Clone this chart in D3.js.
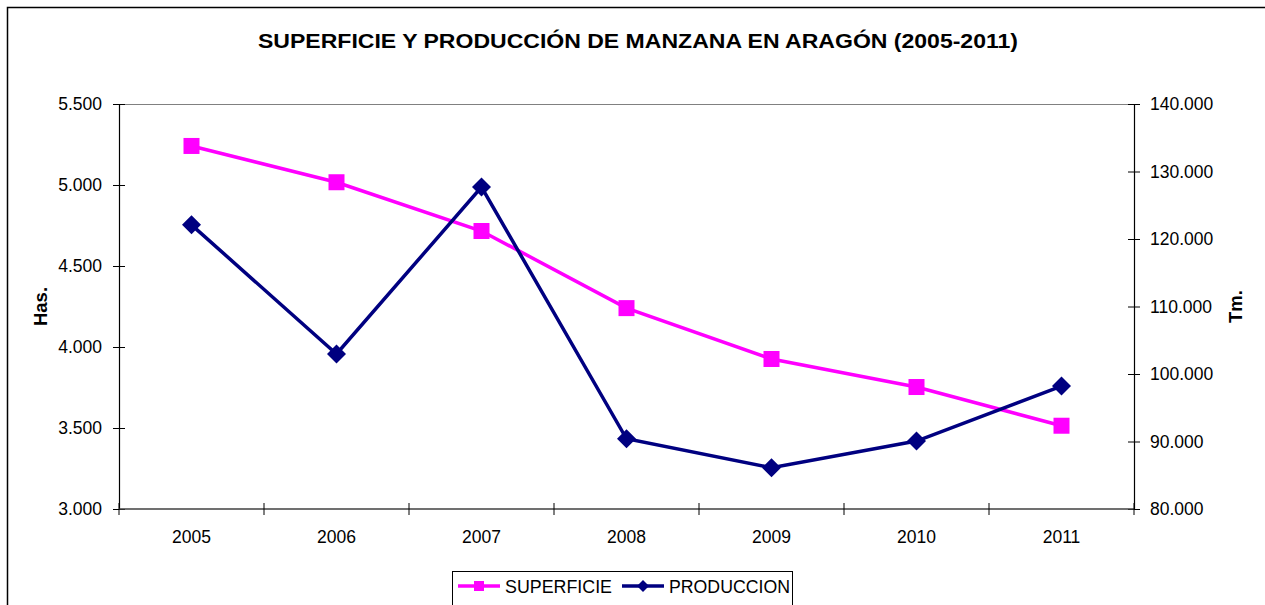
<!DOCTYPE html>
<html>
<head>
<meta charset="utf-8">
<script src="https://cdn.jsdelivr.net/npm/d3@7"></script>
<style>
  html, body { margin: 0; padding: 0; background: #fff; }
  svg { display: block; font-family: "Liberation Sans", Arial, sans-serif; }
</style>
</head>
<body>
<svg id="chart" width="1265" height="605"></svg>
<script>
// Apple growing area (ha) and production (t) in Aragón, 2005-2011
const years = ["2005", "2006", "2007", "2008", "2009", "2010", "2011"];
const superficie = [5241, 5017, 4716, 4240, 3926, 3753, 3514];
const produccion = [122100, 102960, 127700, 90400, 86120, 90070, 98220];
const leftTicks = [3000, 3500, 4000, 4500, 5000, 5500];
const rightTicks = [80000, 90000, 100000, 110000, 120000, 130000, 140000];

const svg = d3.select("#chart");
const plot = { left: 119, right: 1134, top: 104, bottom: 509 };
const tickFont = 17.5;

// Thousands separator with a dot
const fmt = v => d3.format(",")(v).replace(/,/g, ".");

// Outer frame
svg.append("rect")
  .attr("x", 7.5).attr("y", 7.5)
  .attr("width", 1265).attr("height", 620)
  .attr("fill", "none").attr("stroke", "#000").attr("stroke-width", 1.5);

// Title
svg.append("text")
  .attr("x", 638).attr("y", 48)
  .attr("text-anchor", "middle")
  .attr("font-size", 21).attr("font-weight", "bold")
  .attr("textLength", 760).attr("lengthAdjust", "spacingAndGlyphs")
  .text("SUPERFICIE Y PRODUCCIÓN DE MANZANA EN ARAGÓN (2005-2011)");

const x = d3.scaleBand().domain(years).range([plot.left, plot.right]);
const yL = d3.scaleLinear().domain([3000, 5500]).range([plot.bottom, plot.top]);
const yR = d3.scaleLinear().domain([80000, 140000]).range([plot.bottom, plot.top]);

// Top border of the plot area
svg.append("line")
  .attr("x1", plot.left).attr("x2", plot.right)
  .attr("y1", plot.top + 0.5).attr("y2", plot.top + 0.5)
  .attr("stroke", "#808080").attr("stroke-width", 1.2);

// Left axis (cross tick marks)
const gL = svg.append("g").attr("transform", `translate(${plot.left},0)`)
  .call(d3.axisLeft(yL).tickValues(leftTicks).tickFormat(fmt).tickSizeInner(6).tickSizeOuter(0).tickPadding(11));
gL.selectAll(".tick line").attr("x1", -6).attr("x2", 6);
// Right axis (cross tick marks)
const gR = svg.append("g").attr("transform", `translate(${plot.right},0)`)
  .call(d3.axisRight(yR).tickValues(rightTicks).tickFormat(fmt).tickSizeInner(6).tickSizeOuter(0).tickPadding(10));
gR.selectAll(".tick line").attr("x1", -6).attr("x2", 6);

// Bottom axis: ticks between categories
const boundaries = years.map((d) => x(d)).concat([plot.right]);
const gB = svg.append("g");
gB.append("line")
  .attr("x1", plot.left).attr("x2", plot.right)
  .attr("y1", plot.bottom).attr("y2", plot.bottom)
  .attr("stroke", "#404040").attr("stroke-width", 1.5);
gB.selectAll("line.tk").data(boundaries).join("line").attr("class", "tk")
  .attr("x1", d => d).attr("x2", d => d)
  .attr("y1", plot.bottom - 6).attr("y2", plot.bottom + 6)
  .attr("stroke", "#000");
gB.selectAll("text").data(years).join("text")
  .attr("x", d => x(d) + x.bandwidth() / 2)
  .attr("y", 543)
  .attr("text-anchor", "middle")
  .attr("font-size", tickFont)
  .attr("fill", "#000")
  .text(d => d);

[gL, gR].forEach(g => {
  g.select(".domain").attr("stroke", "#000").attr("stroke-width", 1.2);
  g.selectAll(".tick line").attr("stroke", "#000");
  g.selectAll(".tick text").attr("font-size", tickFont).attr("fill", "#000")
    .attr("font-family", "'Liberation Sans', Arial, sans-serif");
});

// Axis titles
svg.append("text")
  .attr("transform", `translate(47,${(plot.top + plot.bottom) / 2}) rotate(-90)`)
  .attr("text-anchor", "middle").attr("font-size", 18.5).attr("font-weight", "bold")
  .text("Has.");
svg.append("text")
  .attr("transform", `translate(1242,${(plot.top + plot.bottom) / 2}) rotate(-90)`)
  .attr("text-anchor", "middle").attr("font-size", 18.5).attr("font-weight", "bold")
  .text("Tm.");

const cx = d => x(d) + x.bandwidth() / 2;
const pink = "#FF00FF", navy = "#000080";

// SUPERFICIE series (left scale)
svg.append("path")
  .datum(superficie)
  .attr("fill", "none").attr("stroke", pink).attr("stroke-width", 3.5)
  .attr("d", d3.line().x((d, i) => cx(years[i])).y(d => yL(d)));
svg.selectAll("rect.sq").data(superficie).join("rect").attr("class", "sq")
  .attr("x", (d, i) => cx(years[i]) - 8).attr("y", d => yL(d) - 8)
  .attr("width", 16).attr("height", 16).attr("fill", pink);

// PRODUCCION series (right scale)
svg.append("path")
  .datum(produccion)
  .attr("fill", "none").attr("stroke", navy).attr("stroke-width", 3.5)
  .attr("d", d3.line().x((d, i) => cx(years[i])).y(d => yR(d)));
const diamond = (px, py, r) => `M${px},${py - r}L${px + r},${py}L${px},${py + r}L${px - r},${py}Z`;
svg.selectAll("path.dm").data(produccion).join("path").attr("class", "dm")
  .attr("d", (d, i) => diamond(cx(years[i]), yR(d), 9.5))
  .attr("fill", navy);

// Legend
const lg = svg.append("g");
lg.append("rect").attr("x", 452.5).attr("y", 571.5).attr("width", 340).attr("height", 34)
  .attr("fill", "#fff").attr("stroke", "#000").attr("stroke-width", 1);
const ly = 586;
lg.append("line").attr("x1", 458).attr("x2", 500).attr("y1", ly).attr("y2", ly)
  .attr("stroke", pink).attr("stroke-width", 3.5);
lg.append("rect").attr("x", 474).attr("y", ly - 5).attr("width", 10).attr("height", 10).attr("fill", pink);
lg.append("text").attr("x", 505).attr("y", 593).attr("font-size", 18)
  .attr("textLength", 107).attr("lengthAdjust", "spacingAndGlyphs").text("SUPERFICIE");
lg.append("line").attr("x1", 622).attr("x2", 664).attr("y1", ly).attr("y2", ly)
  .attr("stroke", navy).attr("stroke-width", 3.5);
lg.append("path").attr("d", diamond(643, ly, 6)).attr("fill", navy);
lg.append("text").attr("x", 669).attr("y", 593).attr("font-size", 18)
  .attr("textLength", 121).attr("lengthAdjust", "spacingAndGlyphs").text("PRODUCCION");
</script>
</body>
</html>
